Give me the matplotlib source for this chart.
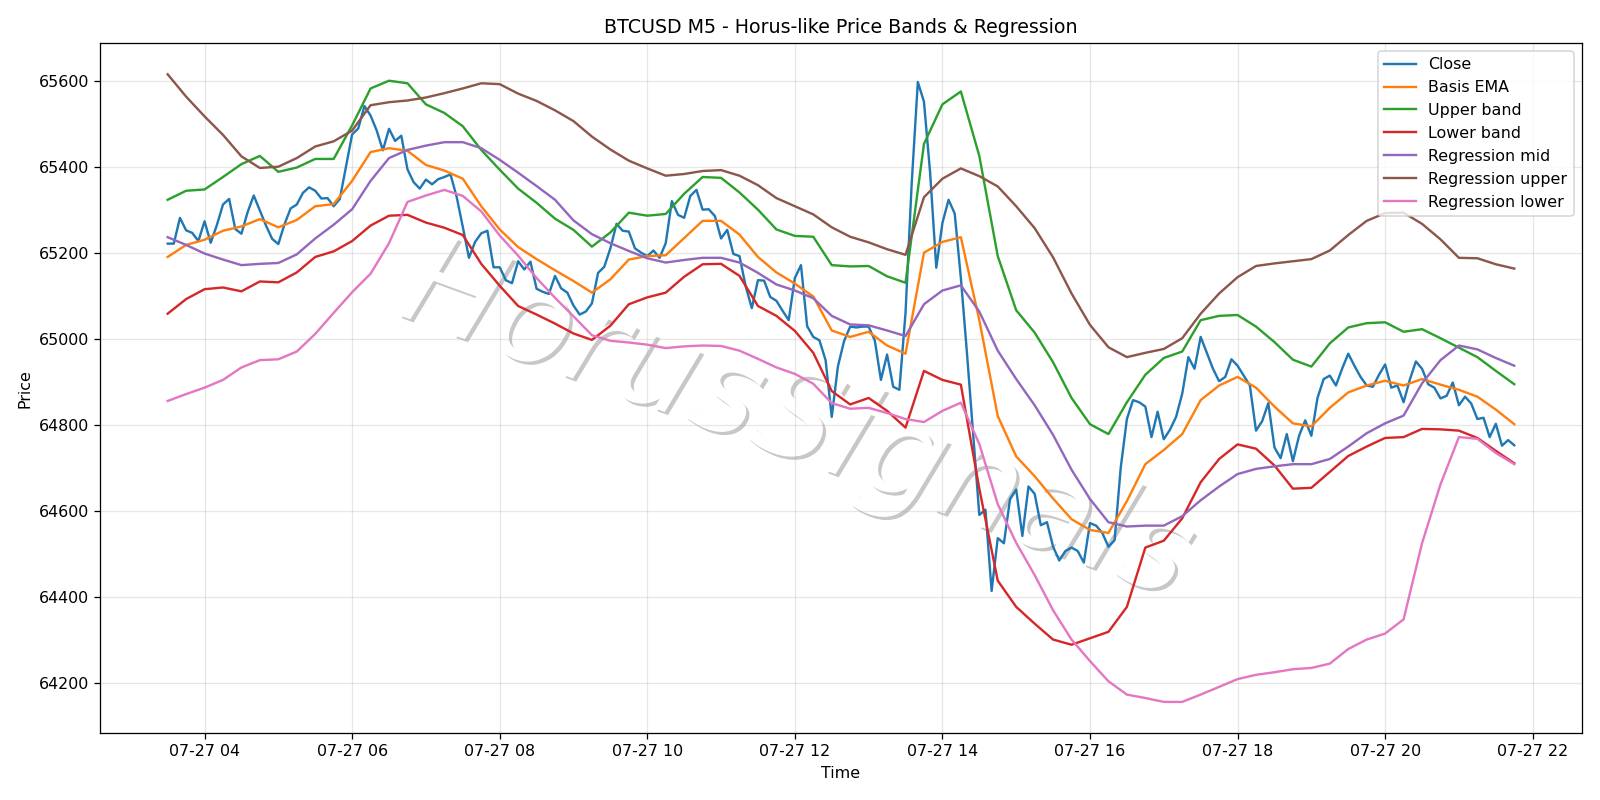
import numpy as np
import pandas as pd
import matplotlib
matplotlib.use("Agg")
import matplotlib.pyplot as plt
import matplotlib.dates as mdates
import matplotlib.patheffects as pe

# 5-minute bars, 07-27 03:30 -> 21:45
times = pd.date_range("2024-07-27 03:30", periods=220, freq="5min")

close = [
    65221, 65221, 65281, 65252, 65246, 65227, 65273, 65223, 65264, 65312,
    65325, 65255, 65244, 65294, 65333, 65298, 65263, 65232, 65220, 65266,
    65303, 65312, 65339, 65352, 65344, 65326, 65327, 65308, 65325, 65400,
    65475, 65489, 65541, 65519, 65484, 65438, 65488, 65460, 65472, 65394,
    65364, 65349, 65370, 65359, 65371, 65376, 65382, 65330, 65260, 65188,
    65225, 65245, 65251, 65166, 65166, 65136, 65129, 65180, 65161, 65179,
    65116, 65109, 65104, 65146, 65117, 65107, 65077, 65056, 65063, 65082,
    65153, 65167, 65210, 65267, 65251, 65249, 65210, 65200, 65192, 65205,
    65188, 65222, 65320, 65288, 65281, 65332, 65346, 65300, 65301, 65285,
    65233, 65253, 65197, 65192, 65122, 65071, 65136, 65135, 65097, 65088,
    65065, 65043, 65141, 65171, 65029, 65004, 64996, 64950, 64818, 64935,
    64994, 65028, 65026, 65028, 65028, 64996, 64904, 64963, 64888, 64881,
    65060, 65360, 65597, 65551, 65386, 65165, 65269, 65323, 65291, 65141,
    64965, 64778, 64590, 64602, 64413, 64536, 64524, 64627, 64649, 64541,
    64656, 64639, 64566, 64573, 64516, 64484, 64506, 64514, 64506, 64479,
    64571, 64565, 64548, 64516, 64531, 64700, 64813, 64857, 64852, 64842,
    64771, 64830, 64766, 64788, 64818, 64872, 64957, 64930, 65004, 64967,
    64930, 64901, 64911, 64952, 64937, 64914, 64891, 64786, 64808, 64850,
    64747, 64722, 64778, 64715, 64774, 64810, 64774, 64862, 64906, 64914,
    64891, 64930, 64965, 64937, 64911, 64891, 64888, 64916, 64940, 64886,
    64891, 64852, 64904, 64947, 64930, 64894, 64886, 64861, 64867, 64898,
    64845, 64865, 64849, 64813, 64816, 64771, 64802, 64751, 64764, 64752,
]

# smooth series read every 15 minutes
basis_ema = [
    65190, 65218, 65230, 65251, 65261, 65278, 65259, 65276, 65308, 65313,
    65367, 65434, 65443, 65437, 65404, 65391, 65372, 65308, 65254, 65213,
    65185, 65159, 65134, 65107, 65138, 65184, 65192, 65194, 65234, 65274,
    65274, 65242, 65190, 65154, 65128, 65098, 65019, 65004, 65016, 64984,
    64965, 65200, 65225, 65236, 65043, 64820, 64726, 64680, 64628, 64580,
    64555, 64548, 64622, 64708, 64741, 64778, 64857, 64891, 64911, 64886,
    64842, 64803, 64796, 64839, 64875, 64891, 64902, 64891, 64906, 64893,
    64881, 64865, 64835, 64801,
]
upper_band = [
    65323, 65344, 65347, 65376, 65406, 65425, 65388, 65398, 65418, 65418,
    65496, 65582, 65600, 65594, 65545, 65525, 65494, 65439, 65393, 65349,
    65316, 65279, 65253, 65214, 65247, 65293, 65286, 65290, 65337, 65376,
    65374, 65340, 65300, 65254, 65239, 65237, 65171, 65168, 65169, 65145,
    65130, 65453, 65545, 65575, 65425, 65192, 65066, 65014, 64945, 64862,
    64801, 64778, 64852, 64916, 64955, 64970, 65043, 65053, 65055, 65028,
    64992, 64951, 64935, 64989, 65026, 65036, 65038, 65016, 65022, 65001,
    64979, 64957, 64925, 64894,
]
lower_band = [
    65058, 65092, 65115, 65119, 65110, 65133, 65131, 65154, 65190, 65203,
    65227, 65263, 65286, 65288, 65270, 65258, 65241, 65174, 65123, 65076,
    65056, 65035, 65012, 64997, 65030, 65080, 65096, 65107, 65144, 65173,
    65174, 65146, 65076, 65053, 65018, 64967, 64878, 64847, 64862, 64832,
    64793, 64925, 64904, 64893, 64651, 64437, 64376, 64337, 64300, 64288,
    64303, 64318, 64376, 64514, 64530, 64582, 64666, 64720, 64754, 64744,
    64705, 64651, 64653, 64690, 64727, 64749, 64769, 64771, 64790, 64789,
    64786, 64769, 64739, 64710,
]
reg_mid = [
    65236, 65218, 65198, 65184, 65171, 65174, 65176, 65196, 65233, 65265,
    65301, 65367, 65420, 65439, 65449, 65457, 65457, 65443, 65416, 65386,
    65355, 65323, 65275, 65243, 65222, 65204, 65187, 65177, 65183, 65188,
    65188, 65177, 65153, 65126, 65112, 65094, 65053, 65033, 65031, 65019,
    65006, 65080, 65112, 65124, 65063, 64972, 64906, 64845, 64776, 64695,
    64627, 64573, 64563, 64565, 64565, 64587, 64624, 64656, 64685, 64697,
    64703, 64708, 64708, 64720, 64749, 64780, 64803, 64821, 64896, 64950,
    64984, 64975, 64955, 64937,
]
reg_upper = [
    65615, 65563, 65517, 65474, 65424, 65397, 65400, 65420, 65447, 65459,
    65484, 65543, 65550, 65554, 65561, 65571, 65582, 65594, 65592, 65570,
    65553, 65531, 65506, 65470, 65440, 65414, 65396, 65379, 65383, 65390,
    65392, 65379, 65357, 65327, 65308, 65289, 65259, 65237, 65224, 65208,
    65195, 65329, 65372, 65396, 65378, 65354, 65308, 65257, 65189, 65105,
    65032, 64980, 64957, 64967, 64976, 65001, 65058, 65105, 65143, 65169,
    65175, 65180, 65185, 65205, 65241, 65274, 65292, 65293, 65267, 65231,
    65188, 65187, 65173, 65163,
]
reg_lower = [
    64855, 64871, 64886, 64904, 64933, 64950, 64952, 64970, 65011, 65060,
    65108, 65151, 65222, 65318, 65333, 65346, 65332, 65296, 65240, 65193,
    65141, 65095, 65052, 65008, 64995, 64991, 64986, 64978, 64982, 64984,
    64983, 64972, 64953, 64933, 64918, 64895, 64850, 64837, 64839, 64827,
    64813, 64806, 64832, 64851, 64755, 64615, 64525, 64450, 64368, 64300,
    64250, 64203, 64172, 64164, 64155, 64155, 64172, 64190, 64208, 64218,
    64224, 64231, 64234, 64244, 64278, 64300, 64314, 64347, 64524, 64661,
    64771, 64767, 64734, 64708,
]

t15 = times[::3]

fig, ax = plt.subplots(figsize=(14, 7), dpi=1600 / 14)
fig.subplots_adjust(left=0.0627, right=0.9885, top=0.9464, bottom=0.0834)

ax.plot(times, close, label="Close")
ax.plot(t15, basis_ema, label="Basis EMA")
ax.plot(t15, upper_band, label="Upper band")
ax.plot(t15, lower_band, label="Lower band")
ax.plot(t15, reg_mid, label="Regression mid")
ax.plot(t15, reg_upper, label="Regression upper")
ax.plot(t15, reg_lower, label="Regression lower")

# watermark
ax.text(0.47, 0.45, "HorusSignals", transform=ax.transAxes, fontsize=80,
        rotation=-20, ha="center", va="center", color="white", style="italic",
        zorder=1,
        path_effects=[pe.withSimplePatchShadow(offset=(2, -2), shadow_rgbFace="black", alpha=0.22)])

ax.xaxis.set_major_locator(mdates.HourLocator(interval=2))
ax.xaxis.set_major_formatter(mdates.DateFormatter("%m-%d %H"))
ax.grid(True, alpha=0.3)
ax.set_title("BTCUSD M5 - Horus-like Price Bands & Regression")
ax.set_xlabel("Time")
ax.set_ylabel("Price")
ax.legend(loc="upper right")

fig.savefig("out.png", dpi=fig.dpi)
